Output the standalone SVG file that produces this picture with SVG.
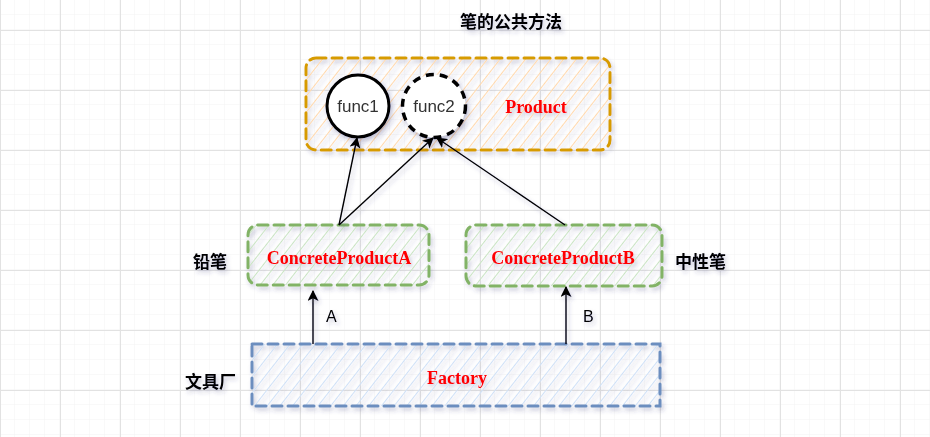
<svg xmlns="http://www.w3.org/2000/svg" width="930" height="437" viewBox="0 0 930 437">
<defs>
<pattern id="gridMinor" width="15" height="15" patternUnits="userSpaceOnUse" x="0" y="0">
<path d="M15 0V15M0 15H15" fill="none" stroke="#f3f3f3" stroke-width="1"/>
</pattern>
<pattern id="gridMajor" width="60" height="60" patternUnits="userSpaceOnUse" x="0" y="30">
<rect width="60" height="60" fill="url(#gridMinor)"/>
<path d="M0.5 0V60M0 0.5H60" fill="none" stroke="#e2e2e2" stroke-width="1"/>
</pattern>
<pattern id="hOrange" width="10" height="10" patternUnits="userSpaceOnUse" patternTransform="rotate(38)">
<line x1="0" y1="0" x2="0" y2="10" stroke="#ffd8ad" stroke-width="2"/>
</pattern>
<pattern id="hGreen" width="10" height="10" patternUnits="userSpaceOnUse" patternTransform="rotate(38)">
<line x1="0" y1="0" x2="0" y2="10" stroke="#c9e3c4" stroke-width="2"/>
</pattern>
<pattern id="hBlue" width="10" height="10" patternUnits="userSpaceOnUse" patternTransform="rotate(38)">
<line x1="0" y1="0" x2="0" y2="10" stroke="#cfe0f7" stroke-width="2"/>
</pattern>
<filter id="sh" x="-20%" y="-30%" width="140%" height="160%">
<feDropShadow dx="2" dy="3" stdDeviation="2" flood-color="#3c3c78" flood-opacity="0.28"/>
</filter>
<marker id="arr" viewBox="0 0 10 10" refX="9" refY="5" markerWidth="11" markerHeight="11" markerUnits="userSpaceOnUse" orient="auto">
<path d="M0 0L10 5L0 10L2.5 5Z" fill="#000"/>
</marker>
<style>
.box{stroke-width:3;stroke-dasharray:10 6;stroke-linecap:round}
.lbl{font-family:"Liberation Serif","Times New Roman",serif;font-weight:bold;fill:#ff0000;font-size:18px;text-anchor:middle}
.cn{font-family:"Noto Sans CJK SC","Noto Sans",sans-serif;font-weight:bold;fill:#000;font-size:17px}
.fn{font-family:"Liberation Sans",Arial,sans-serif;fill:#333;font-size:17px;text-anchor:middle}
.el{font-family:"Liberation Sans",Arial,sans-serif;fill:#000;font-size:16px}
.edge{stroke:#000;stroke-width:1.4;fill:none;marker-end:url(#arr)}
</style>
</defs>
<rect width="930" height="437" fill="#fff"/>
<rect width="930" height="437" fill="url(#gridMajor)"/>

<g id="title" filter="url(#sh)"><text class="cn" x="460" y="28">笔的公共方法</text></g>

<g id="product" filter="url(#sh)">
<rect x="306" y="58" width="304" height="92" rx="10" fill="url(#hOrange)"/>
<rect class="box" x="306" y="58" width="304" height="92" rx="10" fill="none" stroke="#d79b00"/>
<text class="lbl" x="536" y="113" font-size="20">Product</text>
</g>

<g id="func1" filter="url(#sh)">
<circle cx="358" cy="106" r="31" fill="#fff" stroke="#000" stroke-width="3"/>
<text class="fn" x="358" y="112">func1</text>
</g>

<g id="func2" filter="url(#sh)">
<circle cx="434" cy="106" r="31.5" fill="#fff" stroke="#000" stroke-width="3.5" stroke-dasharray="8 6"/>
<text class="fn" x="434" y="112">func2</text>
</g>

<g id="concreteA" filter="url(#sh)">
<rect x="248" y="225" width="181" height="60" rx="10" fill="url(#hGreen)"/>
<rect class="box" x="248" y="225" width="181" height="60" rx="10" fill="none" stroke="#82b366"/>
<text class="lbl" x="339" y="264">ConcreteProductA</text>
</g>
<g id="labelA" filter="url(#sh)"><text class="cn" x="193" y="268">铅笔</text></g>

<g id="concreteB" filter="url(#sh)">
<rect x="466" y="225" width="196" height="61" rx="10" fill="url(#hGreen)"/>
<rect class="box" x="466" y="225" width="196" height="61" rx="10" fill="none" stroke="#82b366"/>
<text class="lbl" x="563" y="264">ConcreteProductB</text>
</g>
<g id="labelB" filter="url(#sh)"><text class="cn" x="675" y="268">中性笔</text></g>

<g id="factory" filter="url(#sh)">
<rect x="252" y="344" width="408" height="62" fill="url(#hBlue)"/>
<rect class="box" x="252" y="344" width="408" height="62" fill="none" stroke="#6c8ebf"/>
<text class="lbl" x="457" y="384">Factory</text>
</g>
<g id="labelF" filter="url(#sh)"><text class="cn" x="185" y="388">文具厂</text></g>

<g id="connectors" filter="url(#sh)">
<line class="edge" x1="339" y1="225" x2="357" y2="138"/>
<line class="edge" x1="339" y1="225" x2="433" y2="138"/>
<line class="edge" x1="565" y1="225" x2="437" y2="138"/>
<line class="edge" x1="313" y1="344" x2="313" y2="291"/>
<line class="edge" x1="566" y1="344" x2="566" y2="287"/>
<text class="el" x="326" y="322">A</text>
<text class="el" x="583" y="322">B</text>
</g>
</svg>
